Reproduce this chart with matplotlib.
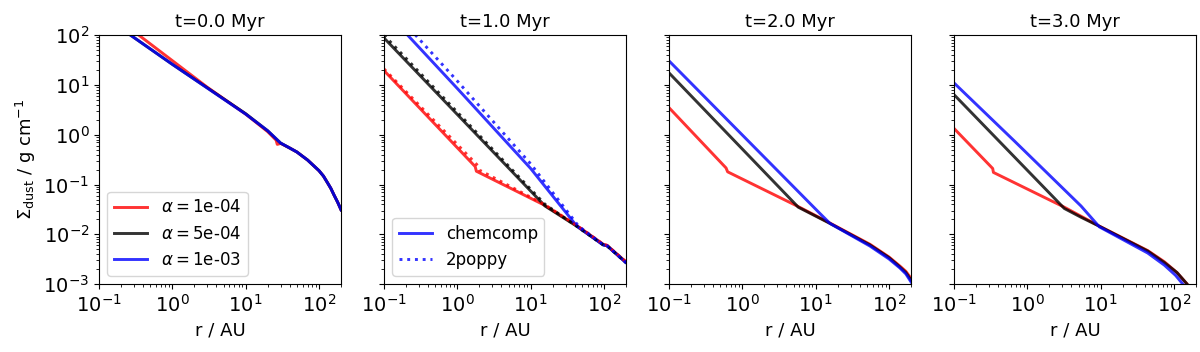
import matplotlib
matplotlib.use("Agg")
import matplotlib.pyplot as plt

# Sigma_dust profiles (r in AU, sigma in g cm^-1)
TIMES = ["t=0.0 Myr", "t=1.0 Myr", "t=2.0 Myr", "t=3.0 Myr"]
ALPHA_LABELS = [r"$\alpha = $1e-04", r"$\alpha = $5e-04", r"$\alpha = $1e-03"]

# t = 0.0 Myr
r_t0_red = [0.1, 0.35, 3.0, 10, 20, 26, 27, 30, 40, 50, 70, 100, 115, 130, 145, 160, 180, 200]
s_t0_red = [400, 100, 9.0, 2.6, 1.15, 0.78, 0.64, 0.67, 0.54, 0.45, 0.31, 0.19, 0.148, 0.11, 0.084, 0.062, 0.044, 0.031]
r_t0_blk = [0.1, 0.27, 1.0, 10, 20, 30, 40, 50, 70, 100, 115, 130, 145, 160, 180, 200]
s_t0_blk = [270, 100, 26, 2.65, 1.2, 0.68, 0.54, 0.45, 0.31, 0.19, 0.148, 0.11, 0.084, 0.062, 0.044, 0.031]
r_t0_blu = [0.1, 0.27, 1.0, 10, 20, 30, 40, 50, 70, 100, 115, 130, 145, 160, 180, 200]
s_t0_blu = [265, 100, 26, 2.6, 1.2, 0.68, 0.54, 0.45, 0.31, 0.19, 0.148, 0.11, 0.084, 0.062, 0.044, 0.031]

# t = 1.0 Myr (chemcomp)
r_t1_red = [0.1, 1.75, 1.82, 15.7, 42.6, 98, 110, 194, 200]
s_t1_red = [19.5, 0.23, 0.185, 0.038, 0.0150, 0.0063, 0.0060, 0.0029, 0.0028]
r_t1_blk = [0.1, 15.7, 42.6, 98, 110, 194, 200]
s_t1_blk = [88, 0.037, 0.0145, 0.0061, 0.0059, 0.0028, 0.0027]
r_t1_blu = [0.1, 1.0, 10, 42.6, 98, 110, 194, 200]
s_t1_blu = [325, 8.5, 0.21, 0.0146, 0.0061, 0.0059, 0.0028, 0.0027]
# t = 1.0 Myr (2poppy)
r_t1_red_pp = [0.1, 1.9, 2.0, 15.7, 42.6, 98, 110, 194, 200]
s_t1_red_pp = [21, 0.24, 0.195, 0.039, 0.0150, 0.0063, 0.0060, 0.0029, 0.0028]
r_t1_blk_pp = [0.1, 15.7, 42.6, 98, 110, 194, 200]
s_t1_blk_pp = [100, 0.040, 0.0145, 0.0061, 0.0059, 0.0028, 0.0027]
r_t1_blu_pp = [0.1, 1.0, 10, 45, 98, 110, 194, 200]
s_t1_blu_pp = [500, 12, 0.26, 0.0146, 0.0061, 0.0059, 0.0028, 0.0027]

# t = 2.0 Myr
r_t2_red = [0.1, 0.60, 0.63, 5.8, 15.7, 55, 100, 141, 170, 200]
s_t2_red = [3.5, 0.215, 0.18, 0.036, 0.0168, 0.0063, 0.0035, 0.0023, 0.0018, 0.0013]
r_t2_blk = [0.1, 5.8, 15.7, 55, 100, 141, 170, 200]
s_t2_blk = [17.5, 0.035, 0.0165, 0.0061, 0.0034, 0.0022, 0.0017, 0.0012]
r_t2_blu = [0.1, 11.5, 15.7, 55, 100, 141, 170, 200]
s_t2_blu = [30.5, 0.026, 0.0165, 0.0058, 0.0032, 0.0021, 0.0016, 0.0011]

# t = 3.0 Myr
r_t3_red = [0.1, 0.337, 0.345, 3.2, 9.6, 43.9, 74, 110, 151, 175]
s_t3_red = [1.34, 0.21, 0.175, 0.035, 0.0146, 0.0047, 0.0028, 0.0017, 0.0010, 0.0007]
r_t3_blk = [0.1, 3.2, 5.4, 9.6, 43.9, 74, 110, 151, 175]
s_t3_blk = [6.4, 0.033, 0.022, 0.0145, 0.0046, 0.0027, 0.0017, 0.0010, 0.0007]
r_t3_blu = [0.1, 0.665, 5.4, 9.6, 43.9, 74, 105, 132, 160]
s_t3_blu = [11, 0.75, 0.037, 0.0141, 0.0042, 0.0024, 0.0015, 0.0010, 0.0007]

chem = [
    [(r_t0_red, s_t0_red), (r_t0_blk, s_t0_blk), (r_t0_blu, s_t0_blu)],
    [(r_t1_red, s_t1_red), (r_t1_blk, s_t1_blk), (r_t1_blu, s_t1_blu)],
    [(r_t2_red, s_t2_red), (r_t2_blk, s_t2_blk), (r_t2_blu, s_t2_blu)],
    [(r_t3_red, s_t3_red), (r_t3_blk, s_t3_blk), (r_t3_blu, s_t3_blu)],
]
poppy = {1: [(r_t1_red_pp, s_t1_red_pp), (r_t1_blk_pp, s_t1_blk_pp), (r_t1_blu_pp, s_t1_blu_pp)]}
colors = ["red", "black", "blue"]

plt.rcParams["font.size"] = 13
plt.rcParams["xtick.labelsize"] = 14
plt.rcParams["ytick.labelsize"] = 14
fig = plt.figure(figsize=(12, 3.52), dpi=100)
axes = []
for i in range(4):
    ax = fig.add_axes([0.0825 + i * 0.2375, 0.193, 0.2017, 0.707],
                      sharey=axes[0] if axes else None)
    axes.append(ax)

for i, ax in enumerate(axes):
    for (r, s), c, lab in zip(chem[i], colors, ALPHA_LABELS):
        ax.plot(r, s, color=c, lw=2.1, alpha=0.8, label=lab)
    if i in poppy:
        for (r, s), c in zip(poppy[i], colors):
            ax.plot(r, s, color=c, lw=2.1, alpha=0.8, ls=":")
    ax.set_xscale("log")
    ax.set_yscale("log")
    ax.set_xlim(0.1, 200)
    ax.set_ylim(1e-3, 1e2)
    ax.set_title(TIMES[i], fontsize=13)
    ax.set_xlabel("r / AU")
    if i > 0:
        ax.tick_params(labelleft=False)

axes[0].set_ylabel(r"$\Sigma_{\rm dust}$ / g cm$^{-1}$")
axes[0].legend(loc="lower left", fontsize=12)
h1, = axes[1].plot([], [], color="blue", lw=2.1, alpha=0.8)
h2, = axes[1].plot([], [], color="blue", lw=2.1, alpha=0.8, ls=":")
axes[1].legend([h1, h2], ["chemcomp", "2poppy"], loc="lower left", fontsize=12)

fig.savefig("out.png", dpi=100)
